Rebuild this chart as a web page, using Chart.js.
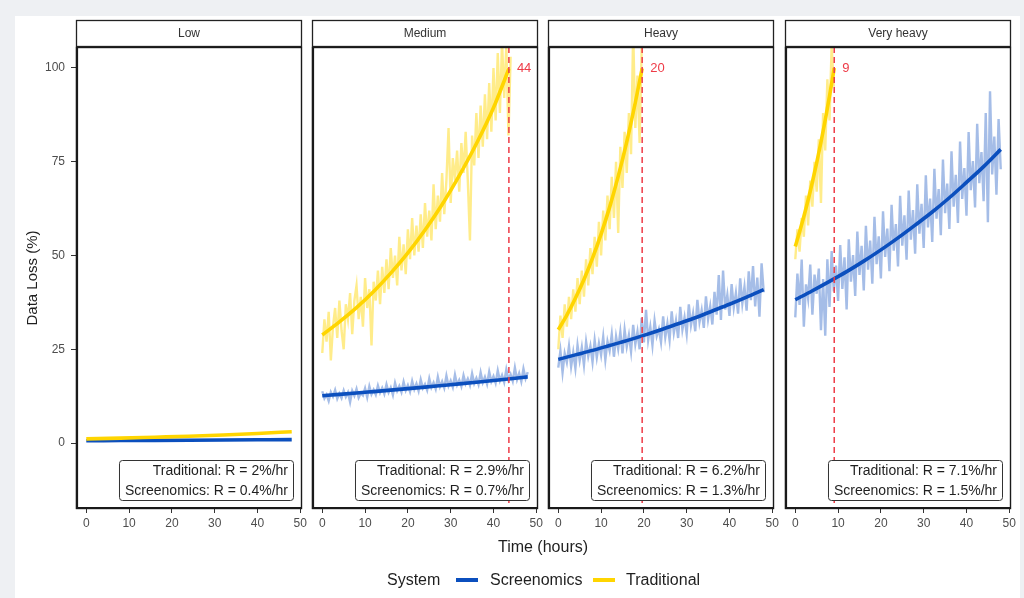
<!DOCTYPE html>
<html>
<head>
<meta charset="utf-8">
<script src="https://cdn.jsdelivr.net/npm/chart.js@4.4.1/dist/chart.umd.min.js"></script>
<style>
  body { margin: 0; background: #eef0f3; font-family: "Liberation Sans", Arial, sans-serif; }
  #page { position: absolute; left: 15px; top: 16px; width: 1005px; height: 582px; background: #fff; }
  canvas { position: absolute; top: 16px; }
  .txt { position: absolute; color: #1f1f1f; font-size: 16px; line-height: 20px; white-space: nowrap; }
  .key { position: absolute; height: 4px; width: 22px; top: 578px; }
</style>
</head>
<body>
<div id="page"></div>
<canvas id="p0" width="297" height="524" style="left:15px;width:297px;height:524px"></canvas>
<canvas id="p1" width="246" height="524" style="left:302px;width:246px;height:524px"></canvas>
<canvas id="p2" width="246" height="524" style="left:538px;width:246px;height:524px"></canvas>
<canvas id="p3" width="246" height="524" style="left:775px;width:246px;height:524px"></canvas>

<div class="txt" style="left:443px;width:200px;text-align:center;top:537px">Time (hours)</div>
<div class="txt" style="left:387px;top:570px">System</div>
<div class="key" style="left:456px;background:#0b4fbe"></div>
<div class="txt" style="left:490px;top:570px">Screenomics</div>
<div class="key" style="left:593px;background:#ffd500"></div>
<div class="txt" style="left:626px;top:570px">Traditional</div>

<script>
// facets and labels
const intensities = ['Low', 'Medium', 'Heavy', 'Very heavy'];
const tradRates = ['2%/hr', '2.9%/hr', '6.2%/hr', '7.1%/hr'];
const scrRates = ['0.4%/hr', '0.7%/hr', '1.3%/hr', '1.5%/hr'];
const crossingHours = [null, 43.6, 19.6, 9.1];   // where the traditional fit hits 100%
const crossingLabels = [null, '44', '20', '9'];
const xTicks = [0, 10, 20, 30, 40, 50];
const yTicks = [0, 25, 50, 75, 100];

// raw readings, every half hour
const rawHours = [0,0.5,1,1.5,2,2.5,3,3.5,4,4.5,
  5,5.5,6,6.5,7,7.5,8,8.5,9,9.5,
  10,10.5,11,11.5,12,12.5,13,13.5,14,14.5,
  15,15.5,16,16.5,17,17.5,18,18.5,19,19.5,
  20,20.5,21,21.5,22,22.5,23,23.5,24,24.5,
  25,25.5,26,26.5,27,27.5,28,28.5,29,29.5,
  30,30.5,31,31.5,32,32.5,33,33.5,34,34.5,
  35,35.5,36,36.5,37,37.5,38,38.5,39,39.5,
  40,40.5,41,41.5,42,42.5,43,43.5,44,44.5,
  45,45.5,46,46.5,47,47.5,48];

const mediumTradRaw = [24,33,27,35,22,31,36,28,38,30, 25,37,33,40,29,38,42,33,39,31,
  44,36,41,26,43,38,46,37,47,40, 49,41,52,44,50,42,55,46,53,45,
  57,49,60,50,58,51,61,52,64,55, 62,54,69,57,66,59,72,61,70,84,
  64,76,70,78,67,80,72,83,70,54, 82,74,88,76,90,79,93,81,96,83,
  100,86,104,88,107,92,106,82,103];
const mediumScrRaw = [13.8,11.9,12.9,11.2,13.6,12.4,14.1,11.8,13.2,12.0,
  14.0,12.3,13.5,10.9,13.9,12.6,14.4,12.1,13.3,12.7,
  14.6,12.2,15.1,13.0,14.2,12.9,15.3,13.4,14.7,13.1,
  15.6,13.5,14.8,12.8,16.0,13.9,15.2,13.6,16.3,14.0,
  15.4,13.7,16.5,14.3,15.8,13.9,16.9,14.6,15.7,14.1,
  17.2,14.8,16.1,14.4,17.6,15.0,16.4,14.7,17.9,15.2,
  16.6,14.9,18.2,15.5,16.8,15.1,18.0,15.8,17.1,15.4,
  18.5,15.9,17.3,15.6,18.8,16.1,17.6,15.7,19.0,16.4,
  17.8,16.0,19.3,16.6,18.1,16.2,19.6,16.8,18.3,16.5,
  20.1,16.9,18.6,16.4,19.8,17.2,18.9];
const heavyTradRaw = [25,34,28,37,31,39,33,41,35,44, 37,46,39,49,42,52,45,55,47,59,
  50,62,54,66,57,71,60,75,56,79, 68,83,72,88,77,110,84,98,80,106];
const heavyScrRaw = [20.1,24.6,18.8,23.9,21.5,25.8,20.4,24.2,19.9,26.1,
  22.0,25.5,20.8,27.0,23.1,25.9,21.6,27.4,22.8,26.6,
  23.5,28.3,22.2,27.1,24.6,29.0,23.0,28.4,25.1,29.6,
  23.9,30.2,25.7,28.8,24.4,31.5,26.3,29.7,25.0,33.4,
  26.8,35.5,27.4,31.0,26.1,32.6,28.5,30.4,26.9,33.8,
  28.2,31.9,27.5,35.1,29.4,32.7,28.0,36.3,30.2,33.5,
  29.1,37.0,31.4,34.6,29.8,38.2,32.3,35.4,30.7,39.1,
  33.0,36.5,31.6,40.3,34.2,44.8,32.8,46.0,35.6,39.5,
  33.9,42.4,36.1,40.0,34.5,43.9,37.2,41.6,35.3,45.8,
  38.1,47.2,36.4,44.1,33.7,47.9,40.2];
const vheavyTradRaw = [49,57,51,60,55,66,58,70,63,75,67,81,64,88,78,97,86,106,95];
const vheavyScrRaw = [33.5,45.2,36.8,48.9,31.0,42.3,38.5,47.6,34.2,44.9,
  39.8,46.5,30.1,43.7,28.6,49.0,36.3,51.2,40.4,47.3,
  37.9,52.8,41.1,49.5,35.6,54.3,43.0,50.1,39.2,56.4,
  44.8,52.6,40.7,57.9,46.2,54.0,42.5,60.3,47.7,55.1,
  43.9,61.8,49.6,57.2,45.8,63.5,51.3,58.4,47.1,65.9,
  52.6,60.7,48.9,67.3,54.2,62.1,50.5,69.0,55.8,63.8,
  52.0,71.4,57.5,65.2,53.6,73.1,59.8,67.7,55.4,75.6,
  61.3,69.2,57.1,77.8,63.0,71.5,58.7,80.4,65.1,73.3,
  60.6,82.9,67.4,75.2,62.8,85.1,69.3,77.6,64.5,88.0,
  58.9,93.8,71.6,81.7,66.2,86.4,73.0];

// fitted exponential curves, read at a few hours
const lowFitHours = [0, 8, 16, 24, 32, 40, 48];
const lowTradFit = [1.1, 1.3, 1.55, 1.8, 2.15, 2.55, 3.0];
const lowScrFit = [0.6, 0.65, 0.7, 0.75, 0.8, 0.85, 0.9];
const scrFitHours = [0, 4, 8, 12, 16, 20, 24, 28, 32, 36, 40, 44, 48];
const mediumTradFitHours = [0, 4, 8, 12, 16, 20, 24, 28, 32, 36, 40, 43.6];
const mediumTradFit = [28.8, 32.3, 36.1, 40.4, 45.3, 50.7, 56.8, 63.6, 71.3, 79.8, 89.4, 99.8];
const mediumScrFit = [12.6, 12.96, 13.33, 13.71, 14.09, 14.49, 14.9, 15.33, 15.76, 16.21, 16.67, 17.14, 17.63];
const heavyTradFitHours = [0, 2, 4, 6, 8, 10, 12, 14, 16, 18, 19.6];
const heavyTradFit = [30.2, 34.1, 38.6, 43.6, 49.3, 55.7, 62.9, 71.1, 80.3, 90.8, 99.9];
const heavyScrFit = [22.3, 23.5, 24.7, 26.0, 27.3, 28.7, 30.2, 31.8, 33.4, 35.2, 37.0, 38.9, 40.9];
const vheavyTradFitHours = [0, 1, 2, 3, 4, 5, 6, 7, 8, 9.1];
const vheavyTradFit = [52.4, 56.3, 60.4, 64.8, 69.6, 74.7, 80.2, 86.1, 92.5, 100];
const vheavyScrFit = [38.2, 40.6, 43.1, 45.7, 48.5, 51.5, 54.7, 58.1, 61.6, 65.4, 69.5, 73.7, 78.3];

const BLUE = '#0b4fbe', GOLD = '#ffd500';
const BLUE_RAW = 'rgba(30,90,195,0.4)', GOLD_RAW = 'rgba(255,213,0,0.46)';

function pts(hours, vals) {
    return vals.map((v, i) => ({ x: hours[i], y: v }));
}

function rawSet(vals, color) {
    return { data: pts(rawHours, vals), borderColor: color, borderWidth: 2.4, pointRadius: 0, order: 2 };
}

function fitSet(hours, vals, color) {
    return { data: pts(hours, vals), borderColor: color, borderWidth: 3.6, pointRadius: 0,
             cubicInterpolationMode: 'monotone', order: 0 };
}

const panels = [
    [fitSet(lowFitHours, lowTradFit, GOLD), fitSet(lowFitHours, lowScrFit, BLUE)],
    [rawSet(mediumTradRaw, GOLD_RAW), rawSet(mediumScrRaw, BLUE_RAW),
     fitSet(mediumTradFitHours, mediumTradFit, GOLD), fitSet(scrFitHours, mediumScrFit, BLUE)],
    [rawSet(heavyTradRaw, GOLD_RAW), rawSet(heavyScrRaw, BLUE_RAW),
     fitSet(heavyTradFitHours, heavyTradFit, GOLD), fitSet(scrFitHours, heavyScrFit, BLUE)],
    [rawSet(vheavyTradRaw, GOLD_RAW), rawSet(vheavyScrRaw, BLUE_RAW),
     fitSet(vheavyTradFitHours, vheavyTradFit, GOLD), fitSet(scrFitHours, vheavyScrFit, BLUE)]
];

// strip, frame, dashed crossing line and the rate box
const facetPlugin = {
    id: 'facet',
    afterDatasetsDraw(chart, args, opts) {
        if (opts.crossing == null) return;
        const { ctx, chartArea: a, scales } = chart;
        const x = scales.x.getPixelForValue(opts.crossing);
        ctx.save();
        ctx.strokeStyle = '#ee3b47';
        ctx.lineWidth = 1.5;
        ctx.setLineDash([6, 4]);
        ctx.beginPath();
        ctx.moveTo(x, a.top);
        ctx.lineTo(x, a.bottom);
        ctx.stroke();
        ctx.setLineDash([]);
        ctx.fillStyle = '#ee3b47';
        ctx.font = '13px "Liberation Sans", Arial, sans-serif';
        ctx.textBaseline = 'middle';
        ctx.fillText(opts.crossingLabel, x + 8, scales.y.getPixelForValue(100));
        ctx.restore();
    },
    afterDraw(chart, args, opts) {
        const { ctx, chartArea: a } = chart;
        ctx.save();
        // strip
        ctx.fillStyle = '#fff';
        ctx.strokeStyle = '#222';
        ctx.lineWidth = 1.3;
        ctx.fillRect(a.left, 4, a.right - a.left, 26);
        ctx.strokeRect(a.left + 0.5, 4.5, a.right - a.left - 1, 26);
        ctx.fillStyle = '#333';
        ctx.font = '12px "Liberation Sans", Arial, sans-serif';
        ctx.textAlign = 'center';
        ctx.textBaseline = 'middle';
        ctx.fillText(opts.label, (a.left + a.right) / 2, 18);
        // panel frame
        ctx.strokeStyle = '#1a1a1a';
        ctx.lineWidth = 1.4;
        ctx.strokeRect(a.left + 0.5, a.top + 0.5, a.right - a.left - 1, a.bottom - a.top - 1);
        ctx.lineWidth = 2.2;
        ctx.beginPath();
        ctx.moveTo(a.left + 1, a.top);
        ctx.lineTo(a.left + 1, a.bottom - 1);
        ctx.lineTo(a.right, a.bottom - 1);
        ctx.stroke();
        // rate box
        ctx.font = '14px "Liberation Sans", Arial, sans-serif';
        const lines = ['Traditional: R = ' + opts.trad, 'Screenomics: R = ' + opts.scr];
        const w = Math.max(...lines.map(s => ctx.measureText(s).width));
        const right = a.right - 9, bottom = a.bottom - 9, top = bottom - 40, left = right - w - 11;
        ctx.fillStyle = '#fff';
        ctx.strokeStyle = '#333';
        ctx.lineWidth = 1;
        ctx.beginPath();
        ctx.roundRect(left + 0.5, top + 0.5, right - left, bottom - top, 3);
        ctx.fill();
        ctx.stroke();
        ctx.fillStyle = '#1f1f1f';
        ctx.textAlign = 'right';
        ctx.fillText(lines[0], right - 5, top + 11);
        ctx.fillText(lines[1], right - 5, top + 31);
        ctx.restore();
    }
};

intensities.forEach((name, i) => {
    const first = i === 0;
    new Chart(document.getElementById('p' + i), {
        type: 'line',
        data: { datasets: panels[i] },
        plugins: [facetPlugin],
        options: {
            responsive: false,
            animation: false,
            parsing: false,
            layout: { padding: { top: 31, left: first ? 0 : 10, right: 10, bottom: 0 } },
            plugins: {
                legend: { display: false },
                tooltip: { enabled: false },
                facet: { label: name, crossing: crossingHours[i], crossingLabel: crossingLabels[i],
                         trad: tradRates[i], scr: scrRates[i] }
            },
            scales: {
                x: {
                    type: 'linear', min: -2.4, max: 50.4,
                    afterBuildTicks: s => { s.ticks = xTicks.map(v => ({ value: v })); },
                    afterFit: s => { s.height = 31; },
                    border: { display: false },
                    grid: { drawOnChartArea: false, tickLength: 4, color: '#333' },
                    ticks: { color: '#4d4d4d', padding: 3, maxRotation: 0,
                             font: { size: 12, family: '"Liberation Sans", Arial, sans-serif' } }
                },
                y: {
                    display: first,
                    min: -17.6, max: 105.6,
                    afterBuildTicks: s => { s.ticks = yTicks.map(v => ({ value: v })); },
                    afterFit: s => { if (first) s.width = 61; },
                    border: { display: false },
                    grid: { drawOnChartArea: false, tickLength: 5, color: '#333' },
                    ticks: { color: '#4d4d4d', padding: 6,
                             font: { size: 12, family: '"Liberation Sans", Arial, sans-serif' } },
                    title: { display: true, text: 'Data Loss (%)', color: '#1f1f1f', padding: { top: 9 },
                             font: { size: 15, family: '"Liberation Sans", Arial, sans-serif' } }
                }
            }
        }
    });
});
</script>
</body>
</html>
